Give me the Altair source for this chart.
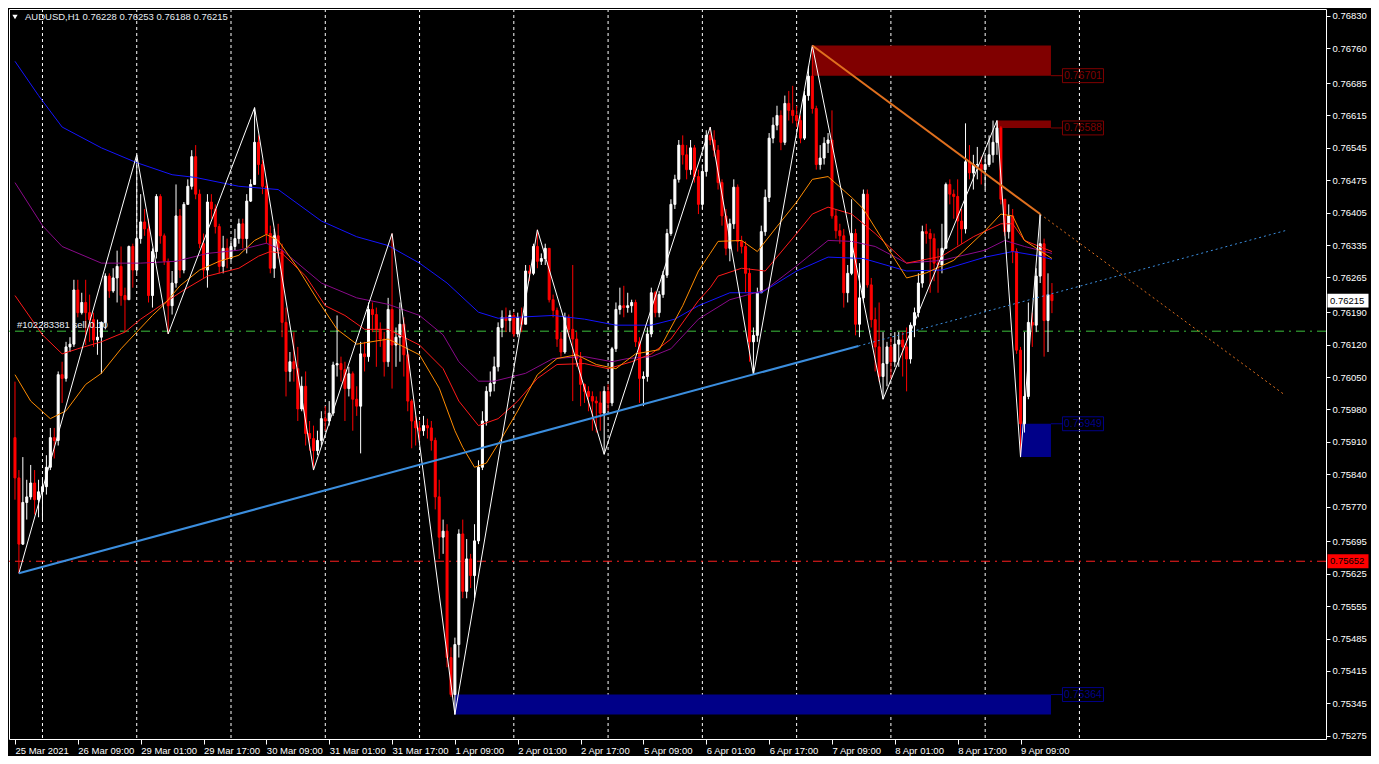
import altair as alt
import pandas as pd

# ---------------- data ----------------
TITLE_TEXT = "AUDUSD,H1  0.76228 0.76253 0.76188 0.76215"
ORDER_TEXT = "#102283381 sell 0.10"
ORDER_PRICE = 0.76149
STOP_PRICE = 0.75652
BID_PRICE = 0.76215

FIRST_OPEN = 0.75919
CLOSE = [
    0.75832, 0.75689, 0.75779, 0.75791, 0.75821, 0.75785, 0.75802, 0.75813, 0.75855, 0.75919,
    0.75913, 0.76055, 0.76047, 0.76115, 0.76121, 0.76238, 0.76189, 0.76211, 0.76189, 0.76174,
    0.76130, 0.76136, 0.76168, 0.76268, 0.76236, 0.76264, 0.76289, 0.76226, 0.76217, 0.76332,
    0.76281, 0.76349, 0.76385, 0.76370, 0.76226, 0.76321, 0.76440, 0.76355, 0.76300, 0.76204,
    0.76253, 0.76398, 0.76281, 0.76423, 0.76462, 0.76526, 0.76445, 0.76338, 0.76281, 0.76428,
    0.76413, 0.76375, 0.76289, 0.76328, 0.76306, 0.76332, 0.76349, 0.76381, 0.76349, 0.76430,
    0.76466, 0.76557, 0.76509, 0.76462, 0.76360, 0.76285, 0.76355, 0.76323, 0.76168, 0.76062,
    0.76083, 0.76068, 0.75981, 0.76030, 0.75928, 0.75917, 0.75891, 0.75913, 0.75960, 0.75955,
    0.75972, 0.76076, 0.76079, 0.76066, 0.76025, 0.76057, 0.76002, 0.75987, 0.76100, 0.76094,
    0.76196, 0.76185, 0.76153, 0.76132, 0.76083, 0.76196, 0.76119, 0.76136, 0.76164, 0.76098,
    0.75998, 0.75955, 0.75940, 0.75934, 0.75945, 0.75940, 0.75913, 0.75791, 0.75704, 0.75717,
    0.75444, 0.75364, 0.75472, 0.75711, 0.75587, 0.75657, 0.75621, 0.75696, 0.75855, 0.75955,
    0.76019, 0.76036, 0.76072, 0.76157, 0.76179, 0.76172, 0.76183, 0.76143, 0.76179, 0.76164,
    0.76279, 0.76274, 0.76332, 0.76300, 0.76306, 0.76328, 0.76217, 0.76194, 0.76132, 0.76104,
    0.76179, 0.76153, 0.76132, 0.76089, 0.76034, 0.76019, 0.76008, 0.75998, 0.75994, 0.75972,
    0.76019, 0.75994, 0.76111, 0.76196, 0.76204, 0.76200, 0.76204, 0.76211, 0.76126, 0.76047,
    0.76051, 0.76143, 0.76232, 0.76189, 0.76228, 0.76270, 0.76360, 0.76423, 0.76477, 0.76551,
    0.76530, 0.76498, 0.76545, 0.76483, 0.76423, 0.76494, 0.76572, 0.76562, 0.76540, 0.76470,
    0.76398, 0.76328, 0.76381, 0.76460, 0.76343, 0.76332, 0.76274, 0.76126, 0.76140, 0.76232,
    0.76364, 0.76438, 0.76566, 0.76594, 0.76615, 0.76557, 0.76641, 0.76626, 0.76615, 0.76604,
    0.76566, 0.76658, 0.76700, 0.76630, 0.76509, 0.76523, 0.76555, 0.76562, 0.76398, 0.76366,
    0.76355, 0.76232, 0.76274, 0.76360, 0.76164, 0.76221, 0.76445, 0.76249, 0.76174, 0.76115,
    0.76051, 0.76079, 0.76115, 0.76083, 0.76121, 0.76130, 0.76115, 0.76089, 0.76162, 0.76189,
    0.76253, 0.76364, 0.76360, 0.76349, 0.76296, 0.76292, 0.76328, 0.76466, 0.76445, 0.76440,
    0.76387, 0.76370, 0.76515, 0.76491, 0.76509, 0.76509, 0.76498, 0.76509, 0.76530, 0.76557,
    0.76588, 0.76434, 0.76364, 0.76398, 0.76321, 0.76108, 0.75949, 0.76008, 0.76168, 0.76162,
    0.76268, 0.76338, 0.76172, 0.76228, 0.76215,
]
HIGH = [
    0.76040, 0.75849, 0.75877, 0.75828, 0.75860, 0.75849, 0.75828, 0.75832, 0.75881, 0.75940,
    0.75940, 0.76062, 0.76083, 0.76126, 0.76136, 0.76260, 0.76260, 0.76232, 0.76260, 0.76228,
    0.76189, 0.76174, 0.76170, 0.76274, 0.76274, 0.76285, 0.76323, 0.76332, 0.76243, 0.76334,
    0.76338, 0.76530, 0.76445, 0.76413, 0.76392, 0.76328, 0.76445, 0.76445, 0.76360, 0.76306,
    0.76279, 0.76466, 0.76413, 0.76428, 0.76477, 0.76540, 0.76551, 0.76455, 0.76360, 0.76445,
    0.76445, 0.76423, 0.76381, 0.76355, 0.76349, 0.76345, 0.76370, 0.76392, 0.76392, 0.76445,
    0.76477, 0.76632, 0.76572, 0.76519, 0.76477, 0.76377, 0.76370, 0.76381, 0.76338, 0.76200,
    0.76104, 0.76147, 0.76115, 0.76051, 0.76062, 0.75955, 0.75945, 0.75934, 0.75976, 0.75987,
    0.75998, 0.76083, 0.76183, 0.76094, 0.76083, 0.76072, 0.76062, 0.76030, 0.76126, 0.76126,
    0.76211, 0.76211, 0.76200, 0.76168, 0.76147, 0.76221, 0.76360, 0.76157, 0.76211, 0.76179,
    0.76104, 0.76002, 0.75966, 0.75955, 0.75966, 0.75960, 0.75955, 0.75919, 0.75828, 0.75742,
    0.75732, 0.75466, 0.75487, 0.75721, 0.75742, 0.75700, 0.75668, 0.75732, 0.75870, 0.75976,
    0.76030, 0.76062, 0.76094, 0.76168, 0.76194, 0.76200, 0.76194, 0.76189, 0.76189, 0.76200,
    0.76292, 0.76292, 0.76338, 0.76368, 0.76317, 0.76338, 0.76328, 0.76228, 0.76200, 0.76147,
    0.76189, 0.76185, 0.76292, 0.76147, 0.76104, 0.76036, 0.76030, 0.76019, 0.76008, 0.76019,
    0.76030, 0.76034, 0.76115, 0.76211, 0.76243, 0.76247, 0.76232, 0.76217, 0.76217, 0.76136,
    0.76062, 0.76157, 0.76243, 0.76236, 0.76236, 0.76279, 0.76370, 0.76434, 0.76487, 0.76562,
    0.76572, 0.76551, 0.76562, 0.76551, 0.76498, 0.76509, 0.76583, 0.76590, 0.76583, 0.76551,
    0.76477, 0.76413, 0.76392, 0.76477, 0.76466, 0.76355, 0.76343, 0.76285, 0.76157, 0.76243,
    0.76377, 0.76455, 0.76577, 0.76611, 0.76636, 0.76626, 0.76658, 0.76668, 0.76679, 0.76636,
    0.76615, 0.76668, 0.76721, 0.76766, 0.76636, 0.76551, 0.76568, 0.76577, 0.76626, 0.76413,
    0.76381, 0.76370, 0.76292, 0.76434, 0.76370, 0.76296, 0.76455, 0.76455, 0.76264, 0.76200,
    0.76211, 0.76147, 0.76126, 0.76136, 0.76147, 0.76147, 0.76147, 0.76157, 0.76168, 0.76200,
    0.76274, 0.76377, 0.76381, 0.76370, 0.76360, 0.76328, 0.76381, 0.76470, 0.76477, 0.76455,
    0.76477, 0.76413, 0.76598, 0.76551, 0.76530, 0.76547, 0.76526, 0.76530, 0.76572, 0.76604,
    0.76604, 0.76592, 0.76434, 0.76423, 0.76413, 0.76328, 0.76115, 0.76147, 0.76211, 0.76189,
    0.76285, 0.76402, 0.76349, 0.76274, 0.76253,
]
LOW = [
    0.75785, 0.75626, 0.75687, 0.75742, 0.75785, 0.75753, 0.75747, 0.75742, 0.75796, 0.75849,
    0.75874, 0.75902, 0.75994, 0.76040, 0.76104, 0.76115, 0.76179, 0.76185, 0.76119, 0.76126,
    0.76115, 0.76098, 0.76057, 0.76153, 0.76221, 0.76232, 0.76211, 0.76204, 0.76147, 0.76217,
    0.76243, 0.76274, 0.76338, 0.76355, 0.76211, 0.76200, 0.76306, 0.76338, 0.76292, 0.76143,
    0.76185, 0.76243, 0.76264, 0.76274, 0.76423, 0.76455, 0.76434, 0.76328, 0.76264, 0.76243,
    0.76392, 0.76360, 0.76274, 0.76274, 0.76285, 0.76300, 0.76323, 0.76338, 0.76328, 0.76317,
    0.76428, 0.76466, 0.76487, 0.76445, 0.76338, 0.76274, 0.76264, 0.76306, 0.76136, 0.76008,
    0.76040, 0.76040, 0.75955, 0.75976, 0.75902, 0.75891, 0.75849, 0.75881, 0.75902, 0.75934,
    0.75945, 0.75966, 0.76051, 0.76040, 0.75955, 0.76008, 0.75934, 0.75966, 0.75885, 0.76062,
    0.76083, 0.76147, 0.76072, 0.76115, 0.76051, 0.76072, 0.76025, 0.76072, 0.76083, 0.76051,
    0.75976, 0.75896, 0.75902, 0.75913, 0.75923, 0.75917, 0.75891, 0.75764, 0.75657, 0.75668,
    0.75423, 0.75359, 0.75321, 0.75444, 0.75572, 0.75572, 0.75594, 0.75572, 0.75689, 0.75849,
    0.75945, 0.76008, 0.76019, 0.76062, 0.76136, 0.76147, 0.76147, 0.76136, 0.76136, 0.76147,
    0.76164, 0.76257, 0.76270, 0.76285, 0.76292, 0.76292, 0.76211, 0.76179, 0.76115, 0.76094,
    0.76100, 0.76136, 0.75998, 0.76072, 0.75987, 0.75994, 0.75976, 0.75934, 0.75930, 0.75934,
    0.75883, 0.75976, 0.75987, 0.76104, 0.76185, 0.76179, 0.76189, 0.76189, 0.76115, 0.75994,
    0.75987, 0.76040, 0.76136, 0.76179, 0.76179, 0.76221, 0.76264, 0.76355, 0.76413, 0.76470,
    0.76509, 0.76477, 0.76487, 0.76470, 0.76402, 0.76413, 0.76483, 0.76551, 0.76526, 0.76455,
    0.76377, 0.76313, 0.76300, 0.76370, 0.76321, 0.76317, 0.76232, 0.76083, 0.76055, 0.76126,
    0.76232, 0.76355, 0.76428, 0.76555, 0.76583, 0.76540, 0.76551, 0.76604, 0.76598, 0.76590,
    0.76555, 0.76562, 0.76647, 0.76619, 0.76498, 0.76498, 0.76509, 0.76534, 0.76392, 0.76349,
    0.76338, 0.76200, 0.76211, 0.76270, 0.76140, 0.76136, 0.76211, 0.76243, 0.76157, 0.76062,
    0.76040, 0.76002, 0.76030, 0.76045, 0.76072, 0.76072, 0.76051, 0.76019, 0.76079, 0.76136,
    0.76179, 0.76243, 0.76338, 0.76232, 0.76257, 0.76232, 0.76274, 0.76328, 0.76423, 0.76392,
    0.76334, 0.76338, 0.76360, 0.76477, 0.76455, 0.76477, 0.76466, 0.76455, 0.76504, 0.76513,
    0.76530, 0.76423, 0.76355, 0.76349, 0.76296, 0.76100, 0.75877, 0.75930, 0.76002, 0.76115,
    0.76147, 0.76253, 0.76094, 0.76104, 0.76188,
]

TICK_BARS = [0, 16, 32, 48, 64, 80, 96, 112, 128, 144, 160, 176, 192, 208, 224, 240, 256]
TICK_LABELS = ["25 Mar 2021", "26 Mar 09:00", "29 Mar 01:00", "29 Mar 17:00", "30 Mar 09:00",
               "31 Mar 01:00", "31 Mar 17:00", "1 Apr 09:00", "2 Apr 01:00", "2 Apr 17:00",
               "5 Apr 09:00", "6 Apr 01:00", "6 Apr 17:00", "7 Apr 09:00", "8 Apr 01:00",
               "8 Apr 17:00", "9 Apr 09:00"]
DAY_BARS = [7, 31, 55, 79, 103, 127, 151, 175, 199, 223, 247, 271]
PRICE_TICKS = [0.76830, 0.76760, 0.76685, 0.76615, 0.76545, 0.76475, 0.76405, 0.76335,
               0.76265, 0.76190, 0.76120, 0.76050, 0.75980, 0.75910, 0.75840, 0.75770,
               0.75695, 0.75625, 0.75555, 0.75485, 0.75415, 0.75345, 0.75275]

MA_BLUE_BARS = [0, 6, 12, 22, 31, 40, 46, 57, 67, 78, 87, 95, 103, 110, 118, 123, 137, 145, 153,
                162, 168, 174, 182, 190, 199, 207, 216, 227, 236, 247, 254, 261, 264]
MA_BLUE = [0.76732, 0.76658, 0.76590, 0.76545, 0.76513, 0.76487, 0.76481, 0.76462, 0.76455,
           0.76387, 0.76353, 0.76334, 0.76296, 0.76253, 0.76190, 0.76177, 0.76183, 0.76175,
           0.76162, 0.76162, 0.76175, 0.76204, 0.76232, 0.76232, 0.76279, 0.76309, 0.76306,
           0.76279, 0.76281, 0.76309, 0.76321, 0.76311, 0.76304]
MA_PURPLE_BARS = [0, 7, 12, 22, 32, 41, 49, 57, 64, 68, 78, 87, 95, 103, 109, 113, 118, 122, 130,
                  137, 145, 152, 156, 162, 167, 174, 182, 191, 199, 207, 213, 219, 227, 236, 247,
                  252, 257, 264]
MA_PURPLE = [0.76470, 0.76377, 0.76332, 0.76296, 0.76296, 0.76300, 0.76317, 0.76324, 0.76339,
             0.76324, 0.76253, 0.76221, 0.76207, 0.76183, 0.76141, 0.76083, 0.76041, 0.76041,
             0.76058, 0.76090, 0.76094, 0.76083, 0.76090, 0.76094, 0.76111, 0.76175, 0.76217,
             0.76238, 0.76290, 0.76345, 0.76343, 0.76332, 0.76296, 0.76302, 0.76324, 0.76345,
             0.76332, 0.76317]
MA_RED_BARS = [0, 7, 12, 16, 22, 28, 32, 37, 43, 49, 57, 62, 65, 68, 74, 79, 84, 89, 95, 103, 109,
               113, 118, 123, 128, 133, 138, 145, 151, 157, 162, 167, 174, 177, 179, 185, 191,
               199, 203, 207, 213, 219, 227, 236, 244, 251, 254, 257, 264]
MA_RED = [0.76226, 0.76141, 0.76100, 0.76111, 0.76126, 0.76147, 0.76175, 0.76204, 0.76238,
          0.76268, 0.76285, 0.76311, 0.76321, 0.76317, 0.76268, 0.76204, 0.76183, 0.76153,
          0.76153, 0.76119, 0.76068, 0.75998, 0.75945, 0.75960, 0.75998, 0.76047, 0.76077,
          0.76079, 0.76068, 0.76083, 0.76100, 0.76132, 0.76215, 0.76243, 0.76268, 0.76285,
          0.76279, 0.76360, 0.76402, 0.76417, 0.76402, 0.76360, 0.76296, 0.76311, 0.76353,
          0.76381, 0.76381, 0.76345, 0.76321]
MA_ORANGE_BARS = [0, 4, 9, 13, 18, 22, 27, 31, 35, 38, 42, 47, 52, 57, 61, 64, 67, 72, 77, 82, 87,
                  95, 103, 108, 112, 114, 117, 120, 124, 128, 133, 138, 143, 148, 153, 158, 164,
                  170, 174, 177, 179, 185, 189, 194, 199, 203, 207, 213, 216, 221, 227, 232, 239,
                  247, 251, 254, 257, 264]
MA_ORANGE = [0.76055, 0.75998, 0.75960, 0.75977, 0.76034, 0.76058, 0.76111, 0.76147, 0.76183,
             0.76207, 0.76247, 0.76281, 0.76300, 0.76313, 0.76345, 0.76358, 0.76345, 0.76285,
             0.76217, 0.76153, 0.76121, 0.76132, 0.76098, 0.76026, 0.75934, 0.75898, 0.75855,
             0.75864, 0.75919, 0.75977, 0.76055, 0.76090, 0.76098, 0.76077, 0.76068, 0.76100,
             0.76109, 0.76204, 0.76279, 0.76317, 0.76343, 0.76345, 0.76321, 0.76375, 0.76428,
             0.76477, 0.76483, 0.76438, 0.76413, 0.76345, 0.76264, 0.76275, 0.76302, 0.76366,
             0.76402, 0.76398, 0.76345, 0.76306]

ZIGZAG_BARS = [1, 31, 39, 61, 76, 96, 112, 133, 150, 177, 188, 203, 221, 250, 256, 261]
ZIGZAG_PRICES = [0.75626, 0.76530, 0.76143, 0.76632, 0.75849, 0.76360, 0.75321, 0.76368,
                 0.75883, 0.76590, 0.76055, 0.76766, 0.76002, 0.76604, 0.75877, 0.76402]

TREND_BLUE_BARS = [1, 214.75]
TREND_BLUE_PRICES = [0.75626, 0.76117]
TREND_BLUE_RAY_BARS = [214.75, 323.75]
TREND_BLUE_RAY_PRICES = [0.76117, 0.76367]
TREND_ORANGE_BARS = [203, 261]
TREND_ORANGE_PRICES = [0.76766, 0.76402]
TREND_ORANGE_RAY_BARS = [261, 323]
TREND_ORANGE_RAY_PRICES = [0.76402, 0.76013]

ZONE_START = [203, 250, 256, 112]
ZONE_END = 263.75
ZONE_LOW = [0.76701, 0.76588, 0.75877, 0.75321]
ZONE_HIGH = [0.76766, 0.76604, 0.75949, 0.75364]
ZONE_LABEL_PRICE = [0.76701, 0.76588, 0.75949, 0.75364]
ZONE_COLOR = ["#800000", "#800000", "#000088", "#000088"]
ZONE_LABEL_START = 266.75
ZONE_LABEL_CENTER = 271.9

# ---------------- layout ----------------
W, H = 1317, 730
FONT = "Liberation Sans"
xs = alt.Scale(domain=[-0.25, 332.5], nice=False, zero=False)
ys = alt.Scale(domain=[0.75268, 0.76845], nice=False, zero=False)

label_expr = "[" + ",".join("'%s'" % t for t in TICK_LABELS) + "][round(datum.value/16)]"
X_AXIS = alt.Axis(values=TICK_BARS, labelExpr=label_expr, labelAlign="left", labelColor="white",
                  labelFont=FONT, labelFontSize=9.5, tickColor="white", tickSize=5,
                  domain=False, grid=False, labelPadding=1, labelOverlap=False,
                  labelFlush=False, title=None, labelBaseline="top")
Y_AXIS = alt.Axis(orient="right", values=PRICE_TICKS, format=".5f", labelColor="white",
                  labelFont=FONT, labelFontSize=9.5, tickColor="white", tickSize=4,
                  domain=False, grid=False, labelPadding=2, labelOverlap=False,
                  labelFlush=False, title=None)


def X(field):
    return alt.X(field, type="quantitative", scale=xs, axis=X_AXIS)


def Y(field):
    return alt.Y(field, type="quantitative", scale=ys, axis=Y_AXIS)


# ---------------- frames ----------------
opens = [FIRST_OPEN] + CLOSE[:-1]
candles = pd.DataFrame({"bar": list(range(len(CLOSE))), "open": opens, "close": CLOSE,
                        "high": HIGH, "low": LOW})
candles["col"] = ["#ffffff" if c >= o else "#ff0000" for o, c in zip(opens, CLOSE)]

days = pd.DataFrame({"bar": DAY_BARS})

zones = pd.DataFrame({"x1": ZONE_START, "x2": [ZONE_END] * 4, "lo": ZONE_LOW, "hi": ZONE_HIGH,
                      "lab": ZONE_LABEL_PRICE, "col": ZONE_COLOR,
                      "c1": [ZONE_END] * 4, "c2": [ZONE_LABEL_START] * 4,
                      "cx": [ZONE_LABEL_CENTER] * 4,
                      "txt": ["%.5f" % p for p in ZONE_LABEL_PRICE]})

hlines = pd.DataFrame({"price": [ORDER_PRICE, STOP_PRICE], "col": ["#3cbf3c", "#ff2020"]})

ma_rows = []
for bars, vals, col in [(MA_BLUE_BARS, MA_BLUE, "#1414ff"), (MA_PURPLE_BARS, MA_PURPLE, "#8a0a8a"),
                        (MA_RED_BARS, MA_RED, "#ff1a1a"), (MA_ORANGE_BARS, MA_ORANGE, "#ff8c00")]:
    for b, v in zip(bars, vals):
        ma_rows.append({"bar": b, "price": v, "col": col})
mas = pd.DataFrame(ma_rows)

zig = pd.DataFrame({"bar": ZIGZAG_BARS, "price": ZIGZAG_PRICES})

solid = pd.DataFrame({"bar": TREND_BLUE_BARS + TREND_ORANGE_BARS,
                      "price": TREND_BLUE_PRICES + TREND_ORANGE_PRICES,
                      "seg": ["b", "b", "o", "o"],
                      "col": ["#3b8ede", "#3b8ede", "#e0701e", "#e0701e"]})
rays = pd.DataFrame({"bar": TREND_BLUE_RAY_BARS + TREND_ORANGE_RAY_BARS,
                     "price": TREND_BLUE_RAY_PRICES + TREND_ORANGE_RAY_PRICES,
                     "seg": ["b", "b", "o", "o"],
                     "col": ["#3b8ede", "#3b8ede", "#e0701e", "#e0701e"]})

tags = pd.DataFrame({"price": [BID_PRICE, STOP_PRICE], "fill": ["#ffffff", "#ff0000"],
                     "txt": ["%.5f" % BID_PRICE, "%.5f" % STOP_PRICE]})
order = pd.DataFrame({"price": [ORDER_PRICE], "txt": [ORDER_TEXT]})
title = pd.DataFrame({"txt": [TITLE_TEXT]})

BOX = "M-1,-0.34H1V0.34H-1Z"

# ---------------- layers ----------------
grid = alt.Chart(days).mark_rule(color="white", strokeDash=[3, 3], strokeWidth=1).encode(
    x=X("bar"))

zone_rects = alt.Chart(zones).mark_rect().encode(
    x=X("x1"), x2="x2:Q", y=Y("lo"), y2="hi:Q", color=alt.Color("col:N", scale=None))

level_lines = alt.Chart(hlines).mark_rule(strokeDash=[9, 5, 2, 5], strokeWidth=1).encode(
    y=Y("price"), color=alt.Color("col:N", scale=None))

wicks = alt.Chart(candles).mark_rule(strokeWidth=1).encode(
    x=X("bar"), y=Y("low"), y2="high:Q", color=alt.Color("col:N", scale=None))

bodies = alt.Chart(candles).mark_bar(size=2, strokeWidth=1).encode(
    x=X("bar"), y=Y("open"), y2="close:Q",
    color=alt.Color("col:N", scale=None), stroke=alt.Stroke("col:N", scale=None))

ma_lines = alt.Chart(mas).mark_line(strokeWidth=1).encode(
    x=X("bar"), y=Y("price"), color=alt.Color("col:N", scale=None))

zigzag = alt.Chart(zig).mark_line(color="white", strokeWidth=1).encode(
    x=X("bar"), y=Y("price"))

trend_solid = alt.Chart(solid).mark_line(strokeWidth=2).encode(
    x=X("bar"), y=Y("price"), color=alt.Color("col:N", scale=None), detail="seg:N")

trend_rays = alt.Chart(rays).mark_line(strokeWidth=1, strokeDash=[2, 3]).encode(
    x=X("bar"), y=Y("price"), color=alt.Color("col:N", scale=None), detail="seg:N")

zone_conn = alt.Chart(zones).mark_rule(strokeWidth=1).encode(
    x=X("c1"), x2="c2:Q", y=Y("lab"), color=alt.Color("col:N", scale=None))

zone_box = alt.Chart(zones).mark_point(shape=BOX, filled=False, size=1681, strokeWidth=1,
                                      opacity=1).encode(
    x=X("cx"), y=Y("lab"), color=alt.Color("col:N", scale=None))

zone_txt = alt.Chart(zones).mark_text(font=FONT, fontSize=10.5, align="center",
                                      baseline="middle").encode(
    x=X("cx"), y=Y("lab"), text="txt:N", color=alt.Color("col:N", scale=None))

order_txt = alt.Chart(order).mark_text(font=FONT, fontSize=9.5, align="left", baseline="middle",
                                       dy=-6, color="#e6ecf4").encode(
    x=alt.value(8), y=Y("price"), text="txt:N")

tag_box = alt.Chart(tags).mark_point(shape=BOX, filled=True, size=1681, opacity=1).encode(
    x=alt.value(W + 22), y=Y("price"), fill=alt.Fill("fill:N", scale=None))

tag_txt = alt.Chart(tags).mark_text(font=FONT, fontSize=9.5, align="left", baseline="middle",
                                    color="black").encode(
    x=alt.value(W + 4), y=Y("price"), text="txt:N")

tri = alt.Chart(title).mark_point(shape="triangle-down", filled=True, color="white", size=28,
                                  opacity=1).encode(x=alt.value(6), y=alt.value(8))
title_txt = alt.Chart(title).mark_text(font=FONT, fontSize=9.5, align="left", baseline="middle",
                                       color="#e6ecf4").encode(
    x=alt.value(16), y=alt.value(8), text="txt:N")

chart = alt.layer(
    grid, zone_rects, level_lines, wicks, bodies, ma_lines, zigzag, trend_solid, trend_rays,
    zone_conn, zone_box, zone_txt, order_txt, tag_box, tag_txt, tri, title_txt,
).properties(
    width=W, height=H,
    autosize=alt.AutoSizeParams(type="none"),
    padding={"left": 1, "top": 1, "right": 45, "bottom": 17},
).configure(background="black").configure_view(stroke="white", strokeWidth=1)

chart.save("out.html", embed_options={"renderer": "svg", "actions": False})
